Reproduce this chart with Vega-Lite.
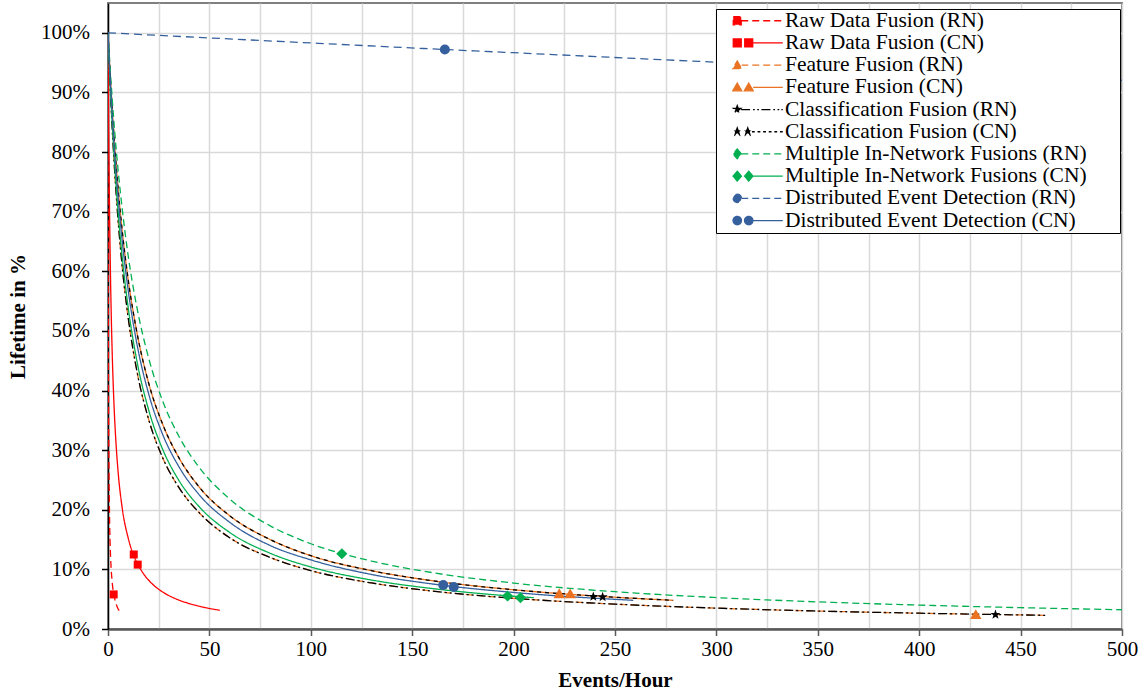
{
  "$schema": "https://vega.github.io/schema/vega-lite/v6.json",
  "width": 1014,
  "height": 626,
  "autosize": {"type": "none"},
  "padding": {"left": 108, "top": 3, "right": 24, "bottom": 66},
  "background": "#ffffff",
  "config": {
    "font": "Liberation Serif",
    "view": {"stroke": "#808080", "strokeWidth": 2},
    "axis": {
      "labelFont": "Liberation Serif",
      "labelFontSize": 21,
      "labelColor": "#000000",
      "titleFont": "Liberation Serif",
      "titleFontSize": 21,
      "titleFontWeight": "bold",
      "titleColor": "#000000",
      "gridColor": "#d9d9d9",
      "gridWidth": 1.5,
      "labelOverlap": false,
      "labelFlush": false
    }
  },
  "datasets": {
    "curves": [
      {"s":"Raw Data Fusion (RN)","x":0,"y":1},{"s":"Raw Data Fusion (RN)","x":0.05,"y":0.778},{"s":"Raw Data Fusion (RN)","x":0.1,"y":0.637},{"s":"Raw Data Fusion (RN)","x":0.2,"y":0.467},{"s":"Raw Data Fusion (RN)","x":0.3,"y":0.369},{"s":"Raw Data Fusion (RN)","x":0.5,"y":0.26},{"s":"Raw Data Fusion (RN)","x":0.75,"y":0.19},{"s":"Raw Data Fusion (RN)","x":1,"y":0.149},{"s":"Raw Data Fusion (RN)","x":1.5,"y":0.105},{"s":"Raw Data Fusion (RN)","x":2,"y":0.081},{"s":"Raw Data Fusion (RN)","x":2.8,"y":0.059},{"s":"Raw Data Fusion (RN)","x":3.5,"y":0.048},{"s":"Raw Data Fusion (RN)","x":4.5,"y":0.0375},{"s":"Raw Data Fusion (RN)","x":6.1,"y":0.028},
      {"s":"Raw Data Fusion (CN)","x":0,"y":1},{"s":"Raw Data Fusion (CN)","x":0.25,"y":0.877},{"s":"Raw Data Fusion (CN)","x":0.5,"y":0.781},{"s":"Raw Data Fusion (CN)","x":1,"y":0.641},{"s":"Raw Data Fusion (CN)","x":1.5,"y":0.543},{"s":"Raw Data Fusion (CN)","x":2,"y":0.472},{"s":"Raw Data Fusion (CN)","x":3,"y":0.373},{"s":"Raw Data Fusion (CN)","x":4,"y":0.309},{"s":"Raw Data Fusion (CN)","x":5,"y":0.263},{"s":"Raw Data Fusion (CN)","x":7,"y":0.203},{"s":"Raw Data Fusion (CN)","x":10,"y":0.152},{"s":"Raw Data Fusion (CN)","x":12.7,"y":0.123},{"s":"Raw Data Fusion (CN)","x":14.65,"y":0.109},{"s":"Raw Data Fusion (CN)","x":18,"y":0.0903},{"s":"Raw Data Fusion (CN)","x":22,"y":0.0751},{"s":"Raw Data Fusion (CN)","x":27,"y":0.062},{"s":"Raw Data Fusion (CN)","x":33,"y":0.0513},{"s":"Raw Data Fusion (CN)","x":40,"y":0.0427},{"s":"Raw Data Fusion (CN)","x":47,"y":0.0366},{"s":"Raw Data Fusion (CN)","x":55.1,"y":0.0314},
      {"s":"Feature Fusion (RN)","x":0,"y":1},{"s":"Feature Fusion (RN)","x":0.5,"y":0.956},{"s":"Feature Fusion (RN)","x":1,"y":0.916},{"s":"Feature Fusion (RN)","x":2,"y":0.845},{"s":"Feature Fusion (RN)","x":3,"y":0.784},{"s":"Feature Fusion (RN)","x":5,"y":0.685},{"s":"Feature Fusion (RN)","x":7,"y":0.608},{"s":"Feature Fusion (RN)","x":10,"y":0.521},{"s":"Feature Fusion (RN)","x":14,"y":0.437},{"s":"Feature Fusion (RN)","x":20,"y":0.352},{"s":"Feature Fusion (RN)","x":27,"y":0.287},{"s":"Feature Fusion (RN)","x":35,"y":0.237},{"s":"Feature Fusion (RN)","x":45,"y":0.195},{"s":"Feature Fusion (RN)","x":60,"y":0.153},{"s":"Feature Fusion (RN)","x":80,"y":0.12},{"s":"Feature Fusion (RN)","x":100,"y":0.098},{"s":"Feature Fusion (RN)","x":130,"y":0.0772},{"s":"Feature Fusion (RN)","x":160,"y":0.0636},{"s":"Feature Fusion (RN)","x":200,"y":0.0515},{"s":"Feature Fusion (RN)","x":250,"y":0.0417},{"s":"Feature Fusion (RN)","x":300,"y":0.035},{"s":"Feature Fusion (RN)","x":350,"y":0.0301},{"s":"Feature Fusion (RN)","x":400,"y":0.0265},{"s":"Feature Fusion (RN)","x":463,"y":0.0229},
      {"s":"Feature Fusion (CN)","x":0,"y":1},{"s":"Feature Fusion (CN)","x":0.5,"y":0.966},{"s":"Feature Fusion (CN)","x":1,"y":0.934},{"s":"Feature Fusion (CN)","x":2,"y":0.876},{"s":"Feature Fusion (CN)","x":3,"y":0.824},{"s":"Feature Fusion (CN)","x":5,"y":0.738},{"s":"Feature Fusion (CN)","x":7,"y":0.668},{"s":"Feature Fusion (CN)","x":10,"y":0.585},{"s":"Feature Fusion (CN)","x":14,"y":0.502},{"s":"Feature Fusion (CN)","x":20,"y":0.413},{"s":"Feature Fusion (CN)","x":27,"y":0.343},{"s":"Feature Fusion (CN)","x":35,"y":0.287},{"s":"Feature Fusion (CN)","x":45,"y":0.238},{"s":"Feature Fusion (CN)","x":60,"y":0.19},{"s":"Feature Fusion (CN)","x":80,"y":0.15},{"s":"Feature Fusion (CN)","x":100,"y":0.123},{"s":"Feature Fusion (CN)","x":130,"y":0.0978},{"s":"Feature Fusion (CN)","x":160,"y":0.0809},{"s":"Feature Fusion (CN)","x":200,"y":0.0658},{"s":"Feature Fusion (CN)","x":250,"y":0.0533},{"s":"Feature Fusion (CN)","x":278.7,"y":0.0481},
      {"s":"Classification Fusion (RN)","x":0,"y":1},{"s":"Classification Fusion (RN)","x":0.5,"y":0.956},{"s":"Classification Fusion (RN)","x":1,"y":0.916},{"s":"Classification Fusion (RN)","x":2,"y":0.845},{"s":"Classification Fusion (RN)","x":3,"y":0.784},{"s":"Classification Fusion (RN)","x":5,"y":0.685},{"s":"Classification Fusion (RN)","x":7,"y":0.608},{"s":"Classification Fusion (RN)","x":10,"y":0.521},{"s":"Classification Fusion (RN)","x":14,"y":0.437},{"s":"Classification Fusion (RN)","x":20,"y":0.352},{"s":"Classification Fusion (RN)","x":27,"y":0.287},{"s":"Classification Fusion (RN)","x":35,"y":0.237},{"s":"Classification Fusion (RN)","x":45,"y":0.195},{"s":"Classification Fusion (RN)","x":60,"y":0.153},{"s":"Classification Fusion (RN)","x":80,"y":0.12},{"s":"Classification Fusion (RN)","x":100,"y":0.098},{"s":"Classification Fusion (RN)","x":130,"y":0.0772},{"s":"Classification Fusion (RN)","x":160,"y":0.0636},{"s":"Classification Fusion (RN)","x":200,"y":0.0515},{"s":"Classification Fusion (RN)","x":250,"y":0.0417},{"s":"Classification Fusion (RN)","x":300,"y":0.035},{"s":"Classification Fusion (RN)","x":350,"y":0.0301},{"s":"Classification Fusion (RN)","x":400,"y":0.0265},{"s":"Classification Fusion (RN)","x":463,"y":0.0229},
      {"s":"Classification Fusion (CN)","x":0,"y":1},{"s":"Classification Fusion (CN)","x":0.5,"y":0.966},{"s":"Classification Fusion (CN)","x":1,"y":0.934},{"s":"Classification Fusion (CN)","x":2,"y":0.876},{"s":"Classification Fusion (CN)","x":3,"y":0.824},{"s":"Classification Fusion (CN)","x":5,"y":0.738},{"s":"Classification Fusion (CN)","x":7,"y":0.668},{"s":"Classification Fusion (CN)","x":10,"y":0.585},{"s":"Classification Fusion (CN)","x":14,"y":0.502},{"s":"Classification Fusion (CN)","x":20,"y":0.413},{"s":"Classification Fusion (CN)","x":27,"y":0.343},{"s":"Classification Fusion (CN)","x":35,"y":0.287},{"s":"Classification Fusion (CN)","x":45,"y":0.238},{"s":"Classification Fusion (CN)","x":60,"y":0.19},{"s":"Classification Fusion (CN)","x":80,"y":0.15},{"s":"Classification Fusion (CN)","x":100,"y":0.123},{"s":"Classification Fusion (CN)","x":130,"y":0.0978},{"s":"Classification Fusion (CN)","x":160,"y":0.0809},{"s":"Classification Fusion (CN)","x":200,"y":0.0658},{"s":"Classification Fusion (CN)","x":250,"y":0.0533},{"s":"Classification Fusion (CN)","x":278.7,"y":0.0481},
      {"s":"Multiple In-Network Fusions (RN)","x":0,"y":1},{"s":"Multiple In-Network Fusions (RN)","x":0.5,"y":0.971},{"s":"Multiple In-Network Fusions (RN)","x":1,"y":0.943},{"s":"Multiple In-Network Fusions (RN)","x":2,"y":0.893},{"s":"Multiple In-Network Fusions (RN)","x":3,"y":0.847},{"s":"Multiple In-Network Fusions (RN)","x":5,"y":0.769},{"s":"Multiple In-Network Fusions (RN)","x":7,"y":0.705},{"s":"Multiple In-Network Fusions (RN)","x":10,"y":0.625},{"s":"Multiple In-Network Fusions (RN)","x":14,"y":0.544},{"s":"Multiple In-Network Fusions (RN)","x":20,"y":0.455},{"s":"Multiple In-Network Fusions (RN)","x":27,"y":0.382},{"s":"Multiple In-Network Fusions (RN)","x":35,"y":0.323},{"s":"Multiple In-Network Fusions (RN)","x":45,"y":0.271},{"s":"Multiple In-Network Fusions (RN)","x":60,"y":0.218},{"s":"Multiple In-Network Fusions (RN)","x":80,"y":0.173},{"s":"Multiple In-Network Fusions (RN)","x":100,"y":0.143},{"s":"Multiple In-Network Fusions (RN)","x":130,"y":0.114},{"s":"Multiple In-Network Fusions (RN)","x":160,"y":0.0945},{"s":"Multiple In-Network Fusions (RN)","x":200,"y":0.077},{"s":"Multiple In-Network Fusions (RN)","x":250,"y":0.0626},{"s":"Multiple In-Network Fusions (RN)","x":300,"y":0.0527},{"s":"Multiple In-Network Fusions (RN)","x":350,"y":0.0455},{"s":"Multiple In-Network Fusions (RN)","x":400,"y":0.0401},{"s":"Multiple In-Network Fusions (RN)","x":450,"y":0.0358},{"s":"Multiple In-Network Fusions (RN)","x":500,"y":0.0323},
      {"s":"Multiple In-Network Fusions (CN)","x":0,"y":1},{"s":"Multiple In-Network Fusions (CN)","x":0.5,"y":0.959},{"s":"Multiple In-Network Fusions (CN)","x":1,"y":0.921},{"s":"Multiple In-Network Fusions (CN)","x":2,"y":0.853},{"s":"Multiple In-Network Fusions (CN)","x":3,"y":0.795},{"s":"Multiple In-Network Fusions (CN)","x":5,"y":0.699},{"s":"Multiple In-Network Fusions (CN)","x":7,"y":0.624},{"s":"Multiple In-Network Fusions (CN)","x":10,"y":0.538},{"s":"Multiple In-Network Fusions (CN)","x":14,"y":0.454},{"s":"Multiple In-Network Fusions (CN)","x":20,"y":0.368},{"s":"Multiple In-Network Fusions (CN)","x":27,"y":0.301},{"s":"Multiple In-Network Fusions (CN)","x":35,"y":0.249},{"s":"Multiple In-Network Fusions (CN)","x":45,"y":0.205},{"s":"Multiple In-Network Fusions (CN)","x":60,"y":0.162},{"s":"Multiple In-Network Fusions (CN)","x":80,"y":0.127},{"s":"Multiple In-Network Fusions (CN)","x":100,"y":0.104},{"s":"Multiple In-Network Fusions (CN)","x":130,"y":0.0821},{"s":"Multiple In-Network Fusions (CN)","x":160,"y":0.0678},{"s":"Multiple In-Network Fusions (CN)","x":200,"y":0.0549},{"s":"Multiple In-Network Fusions (CN)","x":210,"y":0.0525},
      {"s":"Distributed Event Detection (RN)","x":0,"y":1},{"s":"Distributed Event Detection (RN)","x":50,"y":0.9914},{"s":"Distributed Event Detection (RN)","x":100,"y":0.983},{"s":"Distributed Event Detection (RN)","x":166.1,"y":0.972},{"s":"Distributed Event Detection (RN)","x":200,"y":0.9666},{"s":"Distributed Event Detection (RN)","x":300,"y":0.9507},{"s":"Distributed Event Detection (RN)","x":400,"y":0.9353},{"s":"Distributed Event Detection (RN)","x":500,"y":0.9204},
      {"s":"Distributed Event Detection (CN)","x":0,"y":1},{"s":"Distributed Event Detection (CN)","x":0.5,"y":0.963},{"s":"Distributed Event Detection (CN)","x":1,"y":0.929},{"s":"Distributed Event Detection (CN)","x":2,"y":0.867},{"s":"Distributed Event Detection (CN)","x":3,"y":0.813},{"s":"Distributed Event Detection (CN)","x":5,"y":0.723},{"s":"Distributed Event Detection (CN)","x":7,"y":0.651},{"s":"Distributed Event Detection (CN)","x":10,"y":0.567},{"s":"Distributed Event Detection (CN)","x":14,"y":0.483},{"s":"Distributed Event Detection (CN)","x":20,"y":0.395},{"s":"Distributed Event Detection (CN)","x":27,"y":0.326},{"s":"Distributed Event Detection (CN)","x":35,"y":0.272},{"s":"Distributed Event Detection (CN)","x":45,"y":0.225},{"s":"Distributed Event Detection (CN)","x":60,"y":0.179},{"s":"Distributed Event Detection (CN)","x":80,"y":0.14},{"s":"Distributed Event Detection (CN)","x":100,"y":0.116},{"s":"Distributed Event Detection (CN)","x":130,"y":0.0914},{"s":"Distributed Event Detection (CN)","x":160,"y":0.0755},{"s":"Distributed Event Detection (CN)","x":200,"y":0.0613},{"s":"Distributed Event Detection (CN)","x":259,"y":0.0481}
    ],
    "markers": [
      {"s":"Raw Data Fusion (RN)","f":"square","x":2.8,"y":0.058},
      {"s":"Raw Data Fusion (CN)","f":"square","x":12.7,"y":0.125},
      {"s":"Raw Data Fusion (CN)","f":"square","x":14.65,"y":0.108},
      {"s":"Feature Fusion (RN)","f":"triangle","x":427.9,"y":0.025},
      {"s":"Feature Fusion (CN)","f":"triangle","x":222.5,"y":0.06},
      {"s":"Feature Fusion (CN)","f":"triangle","x":227.9,"y":0.0597},
      {"s":"Classification Fusion (RN)","f":"star","x":437.6,"y":0.0241},
      {"s":"Classification Fusion (CN)","f":"star","x":239.3,"y":0.0543},
      {"s":"Classification Fusion (CN)","f":"star","x":243.9,"y":0.0537},
      {"s":"Multiple In-Network Fusions (RN)","f":"diamond","x":115.3,"y":0.1262},
      {"s":"Multiple In-Network Fusions (CN)","f":"diamond","x":197.0,"y":0.0553},
      {"s":"Multiple In-Network Fusions (CN)","f":"diamond","x":203.4,"y":0.0525},
      {"s":"Distributed Event Detection (RN)","f":"circle","x":166.1,"y":0.972},
      {"s":"Distributed Event Detection (CN)","f":"circle","x":165.3,"y":0.0737},
      {"s":"Distributed Event Detection (CN)","f":"circle","x":170.5,"y":0.0704}
    ],
    "series": [
      {"s":"Raw Data Fusion (RN)"},{"s":"Raw Data Fusion (CN)"},{"s":"Feature Fusion (RN)"},{"s":"Feature Fusion (CN)"},{"s":"Classification Fusion (RN)"},{"s":"Classification Fusion (CN)"},{"s":"Multiple In-Network Fusions (RN)"},{"s":"Multiple In-Network Fusions (CN)"},{"s":"Distributed Event Detection (RN)"},{"s":"Distributed Event Detection (CN)"}
    ]
  },
  "encoding": {
    "x": {"field": "x", "type": "quantitative", "scale": {"domain": [0, 500], "nice": false, "zero": false},
      "axis": {"title": "Events/Hour", "values": [0,25,50,75,100,125,150,175,200,225,250,275,300,325,350,375,400,425,450,475,500],
        "labelExpr": "datum.value % 50 === 0 ? datum.label : ''",
        "tickOpacity": {"condition": {"test": "datum.value % 50 !== 0", "value": 0}, "value": 1},
        "domainColor": "#595959", "domainWidth": 2.5, "tickColor": "#595959", "tickWidth": 1.5, "tickSize": 6.5,
        "labelPadding": 3, "titlePadding": 10}},
    "y": {"field": "y", "type": "quantitative", "scale": {"domain": [0, 1.05], "nice": false},
      "axis": {"title": "Lifetime in %", "values": [0,0.1,0.2,0.3,0.4,0.5,0.6,0.7,0.8,0.9,1], "format": ".0%",
        "domainColor": "#000000", "domainWidth": 1.5, "tickColor": "#000000", "tickWidth": 1.5, "tickSize": 6.5,
        "labelPadding": 12, "titlePadding": 12}}
  },
  "layer": [
    {
      "data": {"name": "series"},
      "mark": {"type": "point", "filled": true, "opacity": 0, "size": 196},
      "encoding": {
        "x": {"datum": 250, "type": "quantitative"},
        "y": {"datum": 0.5, "type": "quantitative"},
        "color": {"field": "s", "type": "nominal",
          "scale": {"domain": ["Raw Data Fusion (RN)","Raw Data Fusion (CN)","Feature Fusion (RN)","Feature Fusion (CN)","Classification Fusion (RN)","Classification Fusion (CN)","Multiple In-Network Fusions (RN)","Multiple In-Network Fusions (CN)","Distributed Event Detection (RN)","Distributed Event Detection (CN)"],
            "range": ["#FF0000","#FF0000","#E97322","#E97322","#000000","#000000","#00B050","#00B050","#35609D","#35609D"]},
          "legend": {"title": null, "orient": "none", "legendX": 608, "legendY": 6, "padding": 1,
            "strokeColor": "#000000", "fillColor": "#ffffff", "cornerRadius": 0,
            "labelFont": "Liberation Serif", "labelFontSize": 21.5, "labelColor": "#000000", "labelLimit": 500,
            "labelOffset": 37, "symbolOffset": 9.5, "symbolSize": 196, "symbolStrokeWidth": 1.3, "symbolOpacity": 1,
            "symbolStrokeColor": {"expr": "scale('color', datum.value)"},
            "rowPadding": -0.8, "labelExpr": "datum.label + '\u2800\u2800'"}},
        "shape": {"field": "s", "type": "nominal",
          "scale": {"domain": ["Raw Data Fusion (RN)","Raw Data Fusion (CN)","Feature Fusion (RN)","Feature Fusion (CN)","Classification Fusion (RN)","Classification Fusion (CN)","Multiple In-Network Fusions (RN)","Multiple In-Network Fusions (CN)","Distributed Event Detection (RN)","Distributed Event Detection (CN)"],
            "range": [
              "M-0.57,-0.57L0.57,-0.57L0.57,0.57L-0.57,0.57Z M0.57,0L1.57,0 M2.14,0L3.14,0 M3.71,0L4.71,0 M5.29,0L6.29,0",
              "M-0.57,-0.57L0.57,-0.57L0.57,0.57L-0.57,0.57Z M1.07,-0.57L2.21,-0.57L2.21,0.57L1.07,0.57Z M2.21,0L6.5,0",
              "M0,-0.6L0.64,0.5L-0.64,0.5Z M0.64,0L1.57,0 M2.14,0L3.14,0 M3.71,0L4.71,0 M5.29,0L6.29,0",
              "M0,-0.6L0.64,0.5L-0.64,0.5Z M1.64,-0.6L2.28,0.5L1.0,0.5Z M2.28,0L6.5,0",
              "M0,-0.55L0.129,-0.178L0.523,-0.17L0.209,0.068L0.323,0.445L0,0.22L-0.323,0.445L-0.209,0.068L-0.523,-0.17L-0.129,-0.178Z M0.55,0L1.9,0 M2.25,0L2.5,0 M2.85,0L3.1,0 M3.45,0L4.8,0 M5.15,0L5.4,0 M5.75,0L6.0,0 M6.3,0L6.5,0",
              "M0,-0.55L0.129,-0.178L0.523,-0.17L0.209,0.068L0.323,0.445L0,0.22L-0.323,0.445L-0.209,0.068L-0.523,-0.17L-0.129,-0.178Z M1.5,-0.55L1.629,-0.178L2.023,-0.17L1.709,0.068L1.823,0.445L1.5,0.22L1.177,0.445L1.291,0.068L0.977,-0.17L1.371,-0.178Z M2.1,0L2.5,0 M2.9,0L3.3,0 M3.7,0L4.1,0 M4.5,0L4.9,0 M5.3,0L5.7,0 M6.1,0L6.5,0",
              "M0,-0.7L0.6,0L0,0.7L-0.6,0Z M0.6,0L1.57,0 M2.14,0L3.14,0 M3.71,0L4.71,0 M5.29,0L6.29,0",
              "M0,-0.7L0.6,0L0,0.7L-0.6,0Z M1.64,-0.7L2.24,0L1.64,0.7L1.04,0Z M2.24,0L6.5,0",
              "M-0.6,0A0.6,0.6,0,1,0,0.6,0A0.6,0.6,0,1,0,-0.6,0Z M0.6,0L1.57,0 M2.14,0L3.14,0 M3.71,0L4.71,0 M5.29,0L6.29,0",
              "M-0.6,0A0.6,0.6,0,1,0,0.6,0A0.6,0.6,0,1,0,-0.6,0Z M1.04,0A0.6,0.6,0,1,0,2.24,0A0.6,0.6,0,1,0,1.04,0Z M2.24,0L6.5,0"
            ]},
          "legend": {"title": null, "orient": "none", "legendX": 608, "legendY": 6, "padding": 1,
            "strokeColor": "#000000", "fillColor": "#ffffff", "cornerRadius": 0,
            "labelFont": "Liberation Serif", "labelFontSize": 21.5, "labelColor": "#000000", "labelLimit": 500,
            "labelOffset": 37, "symbolOffset": 9.5, "symbolSize": 196, "symbolStrokeWidth": 1.3, "symbolOpacity": 1,
            "symbolStrokeColor": {"expr": "scale('color', datum.value)"},
            "rowPadding": -0.8, "labelExpr": "datum.label + '\u2800\u2800'"}}
      }
    },
    {
      "data": {"name": "curves"},
      "mark": {"type": "line", "interpolate": "monotone", "strokeWidth": 1.3, "clip": true},
      "encoding": {
        "color": {"field": "s", "type": "nominal", "legend": null,
          "scale": {"domain": ["Raw Data Fusion (RN)","Raw Data Fusion (CN)","Feature Fusion (RN)","Feature Fusion (CN)","Classification Fusion (RN)","Classification Fusion (CN)","Multiple In-Network Fusions (RN)","Multiple In-Network Fusions (CN)","Distributed Event Detection (RN)","Distributed Event Detection (CN)"],
            "range": ["#FF0000","#FF0000","#E97322","#E97322","#000000","#000000","#00B050","#00B050","#35609D","#35609D"]}},
        "strokeDash": {"field": "s", "type": "nominal", "legend": null,
          "scale": {"domain": ["Raw Data Fusion (RN)","Raw Data Fusion (CN)","Feature Fusion (RN)","Feature Fusion (CN)","Classification Fusion (RN)","Classification Fusion (CN)","Multiple In-Network Fusions (RN)","Multiple In-Network Fusions (CN)","Distributed Event Detection (RN)","Distributed Event Detection (CN)"],
            "range": [[7,4],[1,0],[7,4],[1,0],[9,3,2,3,2,3],[4,4],[7,4],[1,0],[8,5],[1,0]]}}
      }
    },
    {
      "data": {"name": "markers"},
      "transform": [{"filter": "datum.f === 'square'"}],
      "mark": {"type": "point", "shape": "square", "filled": true, "size": 64, "opacity": 1},
      "encoding": {"color": {"field": "s", "type": "nominal", "legend": null,
          "scale": {"domain": ["Raw Data Fusion (RN)","Raw Data Fusion (CN)","Feature Fusion (RN)","Feature Fusion (CN)","Classification Fusion (RN)","Classification Fusion (CN)","Multiple In-Network Fusions (RN)","Multiple In-Network Fusions (CN)","Distributed Event Detection (RN)","Distributed Event Detection (CN)"],
            "range": ["#FF0000","#FF0000","#E97322","#E97322","#000000","#000000","#00B050","#00B050","#35609D","#35609D"]}}}
    },
    {
      "data": {"name": "markers"},
      "transform": [{"filter": "datum.f === 'triangle'"}],
      "mark": {"type": "point", "shape": "triangle-up", "filled": true, "size": 130, "opacity": 1},
      "encoding": {"color": {"field": "s", "type": "nominal", "legend": null,
          "scale": {"domain": ["Raw Data Fusion (RN)","Raw Data Fusion (CN)","Feature Fusion (RN)","Feature Fusion (CN)","Classification Fusion (RN)","Classification Fusion (CN)","Multiple In-Network Fusions (RN)","Multiple In-Network Fusions (CN)","Distributed Event Detection (RN)","Distributed Event Detection (CN)"],
            "range": ["#FF0000","#FF0000","#E97322","#E97322","#000000","#000000","#00B050","#00B050","#35609D","#35609D"]}}}
    },
    {
      "data": {"name": "markers"},
      "transform": [{"filter": "datum.f === 'star'"}],
      "mark": {"type": "point", "shape": "M0,-1L0.235,-0.324L0.951,-0.309L0.38,0.124L0.588,0.809L0,0.4L-0.588,0.809L-0.38,0.124L-0.951,-0.309L-0.235,-0.324Z", "filled": true, "size": 110, "opacity": 1},
      "encoding": {"color": {"field": "s", "type": "nominal", "legend": null,
          "scale": {"domain": ["Raw Data Fusion (RN)","Raw Data Fusion (CN)","Feature Fusion (RN)","Feature Fusion (CN)","Classification Fusion (RN)","Classification Fusion (CN)","Multiple In-Network Fusions (RN)","Multiple In-Network Fusions (CN)","Distributed Event Detection (RN)","Distributed Event Detection (CN)"],
            "range": ["#FF0000","#FF0000","#E97322","#E97322","#000000","#000000","#00B050","#00B050","#35609D","#35609D"]}}}
    },
    {
      "data": {"name": "markers"},
      "transform": [{"filter": "datum.f === 'diamond'"}],
      "mark": {"type": "point", "shape": "diamond", "filled": true, "size": 125, "opacity": 1},
      "encoding": {"color": {"field": "s", "type": "nominal", "legend": null,
          "scale": {"domain": ["Raw Data Fusion (RN)","Raw Data Fusion (CN)","Feature Fusion (RN)","Feature Fusion (CN)","Classification Fusion (RN)","Classification Fusion (CN)","Multiple In-Network Fusions (RN)","Multiple In-Network Fusions (CN)","Distributed Event Detection (RN)","Distributed Event Detection (CN)"],
            "range": ["#FF0000","#FF0000","#E97322","#E97322","#000000","#000000","#00B050","#00B050","#35609D","#35609D"]}}}
    },
    {
      "data": {"name": "markers"},
      "transform": [{"filter": "datum.f === 'circle'"}],
      "mark": {"type": "point", "shape": "circle", "filled": true, "size": 100, "opacity": 1},
      "encoding": {"color": {"field": "s", "type": "nominal", "legend": null,
          "scale": {"domain": ["Raw Data Fusion (RN)","Raw Data Fusion (CN)","Feature Fusion (RN)","Feature Fusion (CN)","Classification Fusion (RN)","Classification Fusion (CN)","Multiple In-Network Fusions (RN)","Multiple In-Network Fusions (CN)","Distributed Event Detection (RN)","Distributed Event Detection (CN)"],
            "range": ["#FF0000","#FF0000","#E97322","#E97322","#000000","#000000","#00B050","#00B050","#35609D","#35609D"]}}}
    }
  ]
}
